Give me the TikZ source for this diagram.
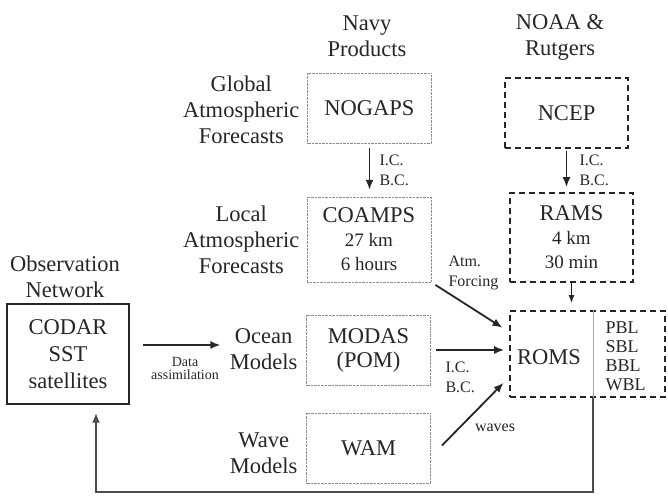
\documentclass[tikz,border=0pt]{standalone}
\usepackage{fontspec}
\setmainfont{Liberation Serif}
\usetikzlibrary{positioning}
\usetikzlibrary{arrows.meta,shapes}
\usetikzlibrary{calc}
\definecolor{ink}{gray}{0.15}
\newcommand{\minor}{\fontsize{19}{22}\selectfont}
\tikzstyle{navybox}=[rectangle,draw=black!45,densely dotted,thin,minimum width=124pt,minimum height=70pt,align=center,inner sep=0pt]
\tikzstyle{noaabox}=[rectangle,draw=ink,dash pattern=on 6pt off 4pt,line width=1.6pt,minimum width=123pt,minimum height=70pt,align=center,inner sep=0pt]
\tikzstyle{obsbox}=[rectangle,draw=ink,line width=1.4pt,minimum width=122pt,minimum height=100pt,align=center,inner sep=0pt,font=\fontsize{22.5}{27}\selectfont]
\tikzstyle{title}=[align=center,font=\fontsize{22.5}{26}\selectfont]
\tikzstyle{weight}=[align=left,font=\fontsize{16}{20}\selectfont]
\tikzstyle{flow}=[-{Latex[length=10pt,width=8pt]},line width=1.8pt,draw=ink]

\begin{document}
\begin{tikzpicture}[x=1pt,y=1pt,font=\fontsize{22.5}{24}\selectfont,text=ink]
\useasboundingbox (0,0) rectangle (668,496);

%Navy
\node[title] (navy) at (367,460) {Navy\\Products};
    \foreach \pos/\name/\label in {{(369.5,388)/nogaps/NOGAPS}, {(368.5,146)/modas/{MODAS\\(POM)}}, {(368.5,48)/wam/WAM}}
        \node[navybox] (\name) at \pos {\label};
\node[navybox,minimum height=85pt] (coamps) at (369,256.5) {COAMPS\\\minor 27 km\\\minor 6 hours};

    \foreach \pos/\name/\label in {{(303,386)/glob/{Global\\Atmospheric\\Forecasts}}, {(303,256)/local/{Local\\Atmospheric\\Forecasts}}, {(301,147)/ocean/{Ocean\\Models}}, {(301,43)/wave/{Wave\\Models}}}
        \node[title,anchor=east] (\name) at \pos {\label};

%NOAA
\node[title] (noaa) at (560,459) {NOAA \&\\Rutgers};
\node[noaabox] (ncep) at (566.5,383) {NCEP};
\node[noaabox,minimum height=89pt] (rams) at (571.5,258.5) {RAMS\\\minor 4 km\\\minor 30 min};
\node[noaabox,minimum width=155pt,minimum height=86pt] (roms) at (587.5,142) {};
\node (romstext) at (549,139) {ROMS};
\node[font=\fontsize{18}{19}\selectfont,align=left,anchor=west] (layers) at (602,140) {PBL\\SBL\\BBL\\WBL};
\draw[black!35,thin] ([xshift=5.5pt]roms.north) -- ([xshift=5.5pt]roms.south);

%Observation
\node[title] (obs) at (65,219) {Observation\\Network};
\node[obsbox] (codar) at (68,142) {CODAR\\SST\\satellites};

%Labels
\node[weight,anchor=west] (icnavy) at (376,326) {I.C.\\B.C.};
\node[weight,anchor=west] (icnoaa) at (576,326) {I.C.\\B.C.};
\node[weight,anchor=west] (icocean) at (442,119) {I.C.\\B.C.};
\node[weight,anchor=west] (forcing) at (445,223) {Atm.\\Forcing};
\node[weight] (waves) at (495,68) {waves};
\node[font=\fontsize{14}{13}\selectfont,align=center] (assim) at (185,128) {Data\\assimilation};

%Flows
  \draw[flow,shorten <=5pt,shorten >=7pt] (nogaps.south) -- (nogaps.south |- coamps.north);
  \draw[flow,shorten <=2pt,shorten >=5pt] (ncep.south) -- (ncep.south |- rams.north);
  \draw[flow,line width=1.4pt,-{Latex[length=8pt,width=6pt]},shorten >=7pt] (rams.south) -- (rams.south |- roms.north);
  \draw[flow,shorten <=5pt,shorten >=8pt] (coamps.south east) -- ([yshift=22pt]roms.west);
  \draw[flow,shorten <=5pt,shorten >=5pt] (modas.east) -- (modas.east -| roms.west);
  \draw[flow,shorten <=16pt,shorten >=8pt] ([yshift=-9pt]wam.east) -- ([yshift=-23pt]roms.west);
  \draw[flow,shorten <=13pt,shorten >=6pt] ([yshift=9pt]codar.east) -- ([yshift=9pt]codar.east -| ocean.west);

%Feedback
\coordinate (corner) at (96,4);
  \draw[flow,line width=2.4pt,draw=black!70,shorten >=8pt] ([xshift=5.5pt]roms.south) |- (corner) -- (corner |- codar.south);

\end{tikzpicture}
\end{document}
